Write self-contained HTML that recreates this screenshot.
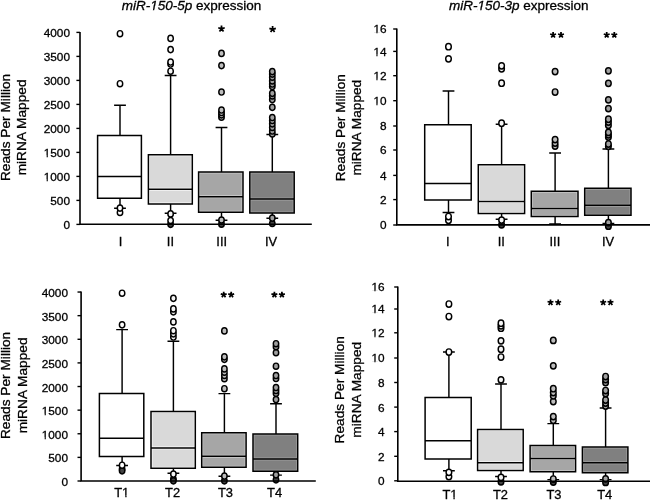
<!DOCTYPE html>
<html><head><meta charset="utf-8"><style>
html,body{margin:0;padding:0;background:#fff;width:650px;height:500px;overflow:hidden}
svg{display:block;will-change:transform}
text{font-family:"Liberation Sans", sans-serif;fill:#000;stroke:#000;stroke-width:0.3px}
</style></head><body>
<svg width="650" height="500" viewBox="0 0 650 500">
<text x="121.7" y="10.4" font-size="13.5"><tspan font-style="italic">miR-150-5p</tspan> expression</text>
<text x="449" y="10.4" font-size="13.5"><tspan font-style="italic">miR-150-3p</tspan> expression</text>
<polygon points="150.06,11.13 152.68,11.13 153.1,9 150.06,9" fill="#fff"/>
<polygon points="154.04,11.13 157.57,11.13 157.57,9 154.45,9" fill="#fff"/>
<polygon points="477.36,11.13 479.98,11.13 480.4,9 477.36,9" fill="#fff"/>
<polygon points="481.34,11.13 484.87,11.13 484.87,9 481.75,9" fill="#fff"/>
<text transform="translate(9.8,127.4) rotate(-90)" text-anchor="middle" font-size="13.7">Reads Per Million</text>
<text transform="translate(26.3,127.4) rotate(-90)" text-anchor="middle" font-size="13.7">miRNA Mapped</text>
<line x1="76.4" y1="224.4" x2="80" y2="224.4" stroke="#000" stroke-width="1.4"/>
<text x="70" y="228.8" text-anchor="end" font-size="11.8">0</text>
<line x1="76.4" y1="200.4" x2="80" y2="200.4" stroke="#000" stroke-width="1.4"/>
<text x="70" y="204.8" text-anchor="end" font-size="11.8">500</text>
<line x1="76.4" y1="176.4" x2="80" y2="176.4" stroke="#000" stroke-width="1.4"/>
<text x="70" y="180.8" text-anchor="end" font-size="11.8">1000</text>
<rect x="43.65" y="179.52" width="2.97" height="2.78" fill="#fff"/>
<rect x="47.86" y="179.52" width="2.78" height="2.78" fill="#fff"/>
<line x1="76.4" y1="152.4" x2="80" y2="152.4" stroke="#000" stroke-width="1.4"/>
<text x="70" y="156.8" text-anchor="end" font-size="11.8">1500</text>
<rect x="43.65" y="155.52" width="2.97" height="2.78" fill="#fff"/>
<rect x="47.86" y="155.52" width="2.78" height="2.78" fill="#fff"/>
<line x1="76.4" y1="128.4" x2="80" y2="128.4" stroke="#000" stroke-width="1.4"/>
<text x="70" y="132.8" text-anchor="end" font-size="11.8">2000</text>
<line x1="76.4" y1="104.4" x2="80" y2="104.4" stroke="#000" stroke-width="1.4"/>
<text x="70" y="108.8" text-anchor="end" font-size="11.8">2500</text>
<line x1="76.4" y1="80.4" x2="80" y2="80.4" stroke="#000" stroke-width="1.4"/>
<text x="70" y="84.8" text-anchor="end" font-size="11.8">3000</text>
<line x1="76.4" y1="56.4" x2="80" y2="56.4" stroke="#000" stroke-width="1.4"/>
<text x="70" y="60.8" text-anchor="end" font-size="11.8">3500</text>
<line x1="76.4" y1="32.4" x2="80" y2="32.4" stroke="#000" stroke-width="1.4"/>
<text x="70" y="36.8" text-anchor="end" font-size="11.8">4000</text>
<path d="M120 105.3V135.6M120 198.2V208.3M114.1 105.3H125.9M114.1 208.3H125.9" stroke="#000" stroke-width="1.45" fill="none"/>
<rect x="98.4" y="136.4" width="42.2" height="39.2" fill="#ffffff" stroke="#ffffff" stroke-width="1.3"/>
<rect x="98.4" y="177.2" width="42.2" height="20.2" fill="#ffffff" stroke="#ffffff" stroke-width="1.3"/>
<path d="M97.6 135.6H141.4V198.2H97.6ZM97.6 176.4H141.4" fill="none" stroke="#000" stroke-width="1.5"/>
<ellipse cx="120" cy="212.5" rx="2.7" ry="3.1" fill="#ffffff" stroke="#000" stroke-width="1.45"/>
<ellipse cx="120" cy="208.1" rx="2.7" ry="3.1" fill="#ffffff" stroke="#000" stroke-width="1.45"/>
<ellipse cx="120" cy="83.7" rx="2.7" ry="3.1" fill="#ffffff" stroke="#000" stroke-width="1.45"/>
<ellipse cx="120" cy="33.7" rx="2.7" ry="3.1" fill="#ffffff" stroke="#000" stroke-width="1.45"/>
<text x="120.6" y="245.9" text-anchor="middle" font-size="12.9">I</text>
<path d="M170.6 75.4V154.8M170.6 203.9V213.3M164.7 75.4H176.5M164.7 213.3H176.5" stroke="#000" stroke-width="1.45" fill="none"/>
<rect x="149.2" y="155.6" width="42.3" height="32.8" fill="#d9d9d9" stroke="#fbfbfb" stroke-width="1.3"/>
<rect x="149.2" y="190" width="42.3" height="13.1" fill="#d9d9d9" stroke="#fbfbfb" stroke-width="1.3"/>
<path d="M148.4 154.8H192.3V203.9H148.4ZM148.4 189.2H192.3" fill="none" stroke="#000" stroke-width="1.5"/>
<ellipse cx="170.6" cy="224.3" rx="2.7" ry="3.1" fill="#444" stroke="#000" stroke-width="1.45"/>
<ellipse cx="170.6" cy="220.5" rx="2.7" ry="3.1" fill="#f4f4f4" stroke="#000" stroke-width="1.45"/>
<ellipse cx="170.6" cy="213.9" rx="2.7" ry="3.1" fill="#f4f4f4" stroke="#000" stroke-width="1.45"/>
<ellipse cx="170.6" cy="71.2" rx="2.7" ry="3.1" fill="#f4f4f4" stroke="#000" stroke-width="1.45"/>
<ellipse cx="170.6" cy="64" rx="2.7" ry="3.1" fill="#f4f4f4" stroke="#000" stroke-width="1.45"/>
<ellipse cx="170.6" cy="62" rx="2.7" ry="3.1" fill="#f4f4f4" stroke="#000" stroke-width="1.45"/>
<ellipse cx="170.6" cy="49.6" rx="2.7" ry="3.1" fill="#f4f4f4" stroke="#000" stroke-width="1.45"/>
<ellipse cx="170.6" cy="38.4" rx="2.7" ry="3.1" fill="#f4f4f4" stroke="#000" stroke-width="1.45"/>
<text x="170.4" y="245.9" text-anchor="middle" font-size="12.9">II</text>
<path d="M221.5 127.4V172M221.5 212.2V220.2M215.6 127.4H227.4M215.6 220.2H227.4" stroke="#000" stroke-width="1.45" fill="none"/>
<rect x="199.4" y="172.8" width="42.8" height="23.1" fill="#a6a6a6" stroke="#cccccc" stroke-width="1.3"/>
<rect x="199.4" y="197.5" width="42.8" height="13.9" fill="#a6a6a6" stroke="#cccccc" stroke-width="1.3"/>
<path d="M198.6 172H243V212.2H198.6ZM198.6 196.7H243" fill="none" stroke="#000" stroke-width="1.5"/>
<ellipse cx="221.5" cy="224.2" rx="2.7" ry="3.1" fill="#444" stroke="#000" stroke-width="1.45"/>
<ellipse cx="221.5" cy="220" rx="2.7" ry="3.1" fill="#bdbdbd" stroke="#000" stroke-width="1.45"/>
<ellipse cx="221.5" cy="117.2" rx="2.7" ry="3.1" fill="#bdbdbd" stroke="#000" stroke-width="1.45"/>
<ellipse cx="221.5" cy="114.8" rx="2.7" ry="3.1" fill="#bdbdbd" stroke="#000" stroke-width="1.45"/>
<ellipse cx="221.5" cy="112.5" rx="2.7" ry="3.1" fill="#bdbdbd" stroke="#000" stroke-width="1.45"/>
<ellipse cx="221.5" cy="110" rx="2.7" ry="3.1" fill="#bdbdbd" stroke="#000" stroke-width="1.45"/>
<ellipse cx="221.5" cy="92" rx="2.7" ry="3.1" fill="#bdbdbd" stroke="#000" stroke-width="1.45"/>
<ellipse cx="221.5" cy="65.6" rx="2.7" ry="3.1" fill="#bdbdbd" stroke="#000" stroke-width="1.45"/>
<ellipse cx="221.5" cy="53.4" rx="2.7" ry="3.1" fill="#bdbdbd" stroke="#000" stroke-width="1.45"/>
<text x="221.7" y="245.9" text-anchor="middle" font-size="12.9">III</text>
<path d="M221.5 28.8L221.5 25.4M221.5 28.8L224.73 27.75M221.5 28.8L223.5 31.55M221.5 28.8L219.5 31.55M221.5 28.8L218.27 27.75" stroke="#000" stroke-width="1.75" fill="none"/>
<path d="M272.3 134.5V172M272.3 213V218.3M266.4 134.5H278.2M266.4 218.3H278.2" stroke="#000" stroke-width="1.45" fill="none"/>
<rect x="250.6" y="172.8" width="42.8" height="25.5" fill="#808080" stroke="#a3a3a3" stroke-width="1.3"/>
<rect x="250.6" y="199.9" width="42.8" height="12.3" fill="#808080" stroke="#a3a3a3" stroke-width="1.3"/>
<path d="M249.8 172H294.2V213H249.8ZM249.8 199.1H294.2" fill="none" stroke="#000" stroke-width="1.5"/>
<ellipse cx="272.3" cy="223.5" rx="2.7" ry="3.1" fill="#444" stroke="#000" stroke-width="1.45"/>
<ellipse cx="272.3" cy="218.1" rx="2.7" ry="3.1" fill="#a0a0a0" stroke="#000" stroke-width="1.45"/>
<ellipse cx="272.3" cy="134" rx="2.7" ry="3.1" fill="#a0a0a0" stroke="#000" stroke-width="1.45"/>
<ellipse cx="272.3" cy="131" rx="2.7" ry="3.1" fill="#a0a0a0" stroke="#000" stroke-width="1.45"/>
<ellipse cx="272.3" cy="127.4" rx="2.7" ry="3.1" fill="#a0a0a0" stroke="#000" stroke-width="1.45"/>
<ellipse cx="272.3" cy="123.8" rx="2.7" ry="3.1" fill="#a0a0a0" stroke="#000" stroke-width="1.45"/>
<ellipse cx="272.3" cy="120.5" rx="2.7" ry="3.1" fill="#a0a0a0" stroke="#000" stroke-width="1.45"/>
<ellipse cx="272.3" cy="117.5" rx="2.7" ry="3.1" fill="#a0a0a0" stroke="#000" stroke-width="1.45"/>
<ellipse cx="272.3" cy="107.3" rx="2.7" ry="3.1" fill="#a0a0a0" stroke="#000" stroke-width="1.45"/>
<ellipse cx="272.3" cy="99.6" rx="2.7" ry="3.1" fill="#a0a0a0" stroke="#000" stroke-width="1.45"/>
<ellipse cx="272.3" cy="95.9" rx="2.7" ry="3.1" fill="#a0a0a0" stroke="#000" stroke-width="1.45"/>
<ellipse cx="272.3" cy="93.3" rx="2.7" ry="3.1" fill="#a0a0a0" stroke="#000" stroke-width="1.45"/>
<ellipse cx="272.3" cy="86.6" rx="2.7" ry="3.1" fill="#a0a0a0" stroke="#000" stroke-width="1.45"/>
<ellipse cx="272.3" cy="84" rx="2.7" ry="3.1" fill="#a0a0a0" stroke="#000" stroke-width="1.45"/>
<ellipse cx="272.3" cy="80.9" rx="2.7" ry="3.1" fill="#a0a0a0" stroke="#000" stroke-width="1.45"/>
<ellipse cx="272.3" cy="77.2" rx="2.7" ry="3.1" fill="#a0a0a0" stroke="#000" stroke-width="1.45"/>
<ellipse cx="272.3" cy="74.1" rx="2.7" ry="3.1" fill="#a0a0a0" stroke="#000" stroke-width="1.45"/>
<ellipse cx="272.3" cy="71.6" rx="2.7" ry="3.1" fill="#a0a0a0" stroke="#000" stroke-width="1.45"/>
<text x="271.1" y="245.9" text-anchor="middle" font-size="12.9">IV</text>
<path d="M272.6 29.35L272.6 25.95M272.6 29.35L275.83 28.3M272.6 29.35L274.6 32.1M272.6 29.35L270.6 32.1M272.6 29.35L269.37 28.3" stroke="#000" stroke-width="1.75" fill="none"/>
<path d="M80 32V225M79.2 224.2H311.8" stroke="#000" stroke-width="1.6" fill="none"/>
<text transform="translate(345,127.7) rotate(-90)" text-anchor="middle" font-size="13.7">Reads Per Million</text>
<text transform="translate(361.1,127.7) rotate(-90)" text-anchor="middle" font-size="13.7">miRNA Mapped</text>
<line x1="393.2" y1="225" x2="396.8" y2="225" stroke="#000" stroke-width="1.4"/>
<text x="386.6" y="229.4" text-anchor="end" font-size="11.8">0</text>
<line x1="393.2" y1="199.6" x2="396.8" y2="199.6" stroke="#000" stroke-width="1.4"/>
<text x="386.6" y="204" text-anchor="end" font-size="11.8">2</text>
<line x1="393.2" y1="175.4" x2="396.8" y2="175.4" stroke="#000" stroke-width="1.4"/>
<text x="386.6" y="179.8" text-anchor="end" font-size="11.8">4</text>
<line x1="393.2" y1="150" x2="396.8" y2="150" stroke="#000" stroke-width="1.4"/>
<text x="386.6" y="154.4" text-anchor="end" font-size="11.8">6</text>
<line x1="393.2" y1="126" x2="396.8" y2="126" stroke="#000" stroke-width="1.4"/>
<text x="386.6" y="130.4" text-anchor="end" font-size="11.8">8</text>
<line x1="393.2" y1="100.7" x2="396.8" y2="100.7" stroke="#000" stroke-width="1.4"/>
<text x="386.6" y="105.1" text-anchor="end" font-size="11.8">10</text>
<rect x="373.37" y="103.82" width="2.97" height="2.78" fill="#fff"/>
<rect x="377.58" y="103.82" width="2.78" height="2.78" fill="#fff"/>
<line x1="393.2" y1="75.7" x2="396.8" y2="75.7" stroke="#000" stroke-width="1.4"/>
<text x="386.6" y="80.1" text-anchor="end" font-size="11.8">12</text>
<rect x="373.37" y="78.82" width="2.97" height="2.78" fill="#fff"/>
<rect x="377.58" y="78.82" width="2.78" height="2.78" fill="#fff"/>
<line x1="393.2" y1="51.4" x2="396.8" y2="51.4" stroke="#000" stroke-width="1.4"/>
<text x="386.6" y="55.8" text-anchor="end" font-size="11.8">14</text>
<rect x="373.37" y="54.52" width="2.97" height="2.78" fill="#fff"/>
<rect x="377.58" y="54.52" width="2.78" height="2.78" fill="#fff"/>
<line x1="393.2" y1="29" x2="396.8" y2="29" stroke="#000" stroke-width="1.4"/>
<text x="386.6" y="33.4" text-anchor="end" font-size="11.8">16</text>
<rect x="373.37" y="32.12" width="2.97" height="2.78" fill="#fff"/>
<rect x="377.58" y="32.12" width="2.78" height="2.78" fill="#fff"/>
<path d="M448.5 91V124.8M448.5 199.9V212.4M442.6 91H454.4M442.6 212.4H454.4" stroke="#000" stroke-width="1.45" fill="none"/>
<rect x="425.5" y="125.6" width="44.9" height="57.1" fill="#ffffff" stroke="#ffffff" stroke-width="1.3"/>
<rect x="425.5" y="184.3" width="44.9" height="14.8" fill="#ffffff" stroke="#ffffff" stroke-width="1.3"/>
<path d="M424.7 124.8H471.2V199.9H424.7ZM424.7 183.5H471.2" fill="none" stroke="#000" stroke-width="1.5"/>
<ellipse cx="448.5" cy="220.2" rx="2.8" ry="3.15" fill="#ffffff" stroke="#000" stroke-width="1.45"/>
<ellipse cx="448.5" cy="216.5" rx="2.8" ry="3.15" fill="#ffffff" stroke="#000" stroke-width="1.45"/>
<ellipse cx="448.5" cy="58.85" rx="2.8" ry="3.15" fill="#ffffff" stroke="#000" stroke-width="1.45"/>
<ellipse cx="448.5" cy="46.7" rx="2.8" ry="3.15" fill="#ffffff" stroke="#000" stroke-width="1.45"/>
<text x="447.7" y="245.9" text-anchor="middle" font-size="12.9">I</text>
<path d="M501.6 124.3V164.8M501.6 213.4V219.3M495.7 124.3H507.5M495.7 219.3H507.5" stroke="#000" stroke-width="1.45" fill="none"/>
<rect x="479.1" y="165.6" width="44.7" height="35.1" fill="#d9d9d9" stroke="#fbfbfb" stroke-width="1.3"/>
<rect x="479.1" y="202.3" width="44.7" height="10.3" fill="#d9d9d9" stroke="#fbfbfb" stroke-width="1.3"/>
<path d="M478.3 164.8H524.6V213.4H478.3ZM478.3 201.5H524.6" fill="none" stroke="#000" stroke-width="1.5"/>
<ellipse cx="501.6" cy="224.8" rx="2.8" ry="3.15" fill="#444" stroke="#000" stroke-width="1.45"/>
<ellipse cx="501.6" cy="220.1" rx="2.8" ry="3.15" fill="#f4f4f4" stroke="#000" stroke-width="1.45"/>
<ellipse cx="501.6" cy="123.2" rx="2.8" ry="3.15" fill="#f4f4f4" stroke="#000" stroke-width="1.45"/>
<ellipse cx="501.6" cy="83.2" rx="2.8" ry="3.15" fill="#f4f4f4" stroke="#000" stroke-width="1.45"/>
<ellipse cx="501.6" cy="68.8" rx="2.8" ry="3.15" fill="#f4f4f4" stroke="#000" stroke-width="1.45"/>
<ellipse cx="501.6" cy="65.8" rx="2.8" ry="3.15" fill="#f4f4f4" stroke="#000" stroke-width="1.45"/>
<text x="501.3" y="245.9" text-anchor="middle" font-size="12.9">II</text>
<path d="M555.1 153V191.2M555.1 216.4V223.9M549.2 153H561M549.2 223.9H561" stroke="#000" stroke-width="1.45" fill="none"/>
<rect x="532.1" y="192" width="45.1" height="15.7" fill="#a6a6a6" stroke="#cccccc" stroke-width="1.3"/>
<rect x="532.1" y="209.3" width="45.1" height="6.3" fill="#a6a6a6" stroke="#cccccc" stroke-width="1.3"/>
<path d="M531.3 191.2H578V216.4H531.3ZM531.3 208.5H578" fill="none" stroke="#000" stroke-width="1.5"/>
<ellipse cx="555.1" cy="146" rx="2.8" ry="3.15" fill="#bdbdbd" stroke="#000" stroke-width="1.45"/>
<ellipse cx="555.1" cy="143" rx="2.8" ry="3.15" fill="#bdbdbd" stroke="#000" stroke-width="1.45"/>
<ellipse cx="555.1" cy="139.6" rx="2.8" ry="3.15" fill="#bdbdbd" stroke="#000" stroke-width="1.45"/>
<ellipse cx="555.1" cy="92" rx="2.8" ry="3.15" fill="#bdbdbd" stroke="#000" stroke-width="1.45"/>
<ellipse cx="555.1" cy="71.6" rx="2.8" ry="3.15" fill="#bdbdbd" stroke="#000" stroke-width="1.45"/>
<text x="554.9" y="245.9" text-anchor="middle" font-size="12.9">III</text>
<path d="M553.1 35L553.1 31.9M553.1 35L556.05 34.04M553.1 35L554.92 37.51M553.1 35L551.28 37.51M553.1 35L550.15 34.04" stroke="#000" stroke-width="1.75" fill="none"/>
<path d="M561 35L561 31.9M561 35L563.95 34.04M561 35L562.82 37.51M561 35L559.18 37.51M561 35L558.05 34.04" stroke="#000" stroke-width="1.75" fill="none"/>
<path d="M608.4 149V188.3M608.4 215.3V223.4M602.5 149H614.3M602.5 223.4H614.3" stroke="#000" stroke-width="1.45" fill="none"/>
<rect x="585.5" y="189.1" width="44.7" height="15.4" fill="#808080" stroke="#a3a3a3" stroke-width="1.3"/>
<rect x="585.5" y="206.1" width="44.7" height="8.4" fill="#808080" stroke="#a3a3a3" stroke-width="1.3"/>
<path d="M584.7 188.3H631V215.3H584.7ZM584.7 205.3H631" fill="none" stroke="#000" stroke-width="1.5"/>
<ellipse cx="608.4" cy="226.2" rx="2.8" ry="3.15" fill="#444" stroke="#000" stroke-width="1.45"/>
<ellipse cx="608.4" cy="222.6" rx="2.8" ry="3.15" fill="#a0a0a0" stroke="#000" stroke-width="1.45"/>
<ellipse cx="608.4" cy="146.3" rx="2.8" ry="3.15" fill="#a0a0a0" stroke="#000" stroke-width="1.45"/>
<ellipse cx="608.4" cy="144" rx="2.8" ry="3.15" fill="#a0a0a0" stroke="#000" stroke-width="1.45"/>
<ellipse cx="608.4" cy="137" rx="2.8" ry="3.15" fill="#a0a0a0" stroke="#000" stroke-width="1.45"/>
<ellipse cx="608.4" cy="134.8" rx="2.8" ry="3.15" fill="#a0a0a0" stroke="#000" stroke-width="1.45"/>
<ellipse cx="608.4" cy="132.4" rx="2.8" ry="3.15" fill="#a0a0a0" stroke="#000" stroke-width="1.45"/>
<ellipse cx="608.4" cy="125.3" rx="2.8" ry="3.15" fill="#a0a0a0" stroke="#000" stroke-width="1.45"/>
<ellipse cx="608.4" cy="122" rx="2.8" ry="3.15" fill="#a0a0a0" stroke="#000" stroke-width="1.45"/>
<ellipse cx="608.4" cy="119.2" rx="2.8" ry="3.15" fill="#a0a0a0" stroke="#000" stroke-width="1.45"/>
<ellipse cx="608.4" cy="108.6" rx="2.8" ry="3.15" fill="#a0a0a0" stroke="#000" stroke-width="1.45"/>
<ellipse cx="608.4" cy="99.8" rx="2.8" ry="3.15" fill="#a0a0a0" stroke="#000" stroke-width="1.45"/>
<ellipse cx="608.4" cy="83.3" rx="2.8" ry="3.15" fill="#a0a0a0" stroke="#000" stroke-width="1.45"/>
<ellipse cx="608.4" cy="70.8" rx="2.8" ry="3.15" fill="#a0a0a0" stroke="#000" stroke-width="1.45"/>
<text x="608" y="245.9" text-anchor="middle" font-size="12.9">IV</text>
<path d="M606.7 35L606.7 31.9M606.7 35L609.65 34.04M606.7 35L608.52 37.51M606.7 35L604.88 37.51M606.7 35L603.75 34.04" stroke="#000" stroke-width="1.75" fill="none"/>
<path d="M614.3 35L614.3 31.9M614.3 35L617.25 34.04M614.3 35L616.12 37.51M614.3 35L612.48 37.51M614.3 35L611.35 34.04" stroke="#000" stroke-width="1.75" fill="none"/>
<path d="M396.8 28.5V225.7M396 224.9H650" stroke="#000" stroke-width="1.6" fill="none"/>
<text transform="translate(9.8,385.4) rotate(-90)" text-anchor="middle" font-size="13.7">Reads Per Million</text>
<text transform="translate(26.5,385.4) rotate(-90)" text-anchor="middle" font-size="13.7">miRNA Mapped</text>
<line x1="77.5" y1="481" x2="81.1" y2="481" stroke="#000" stroke-width="1.4"/>
<text x="68" y="486" text-anchor="end" font-size="11.8">0</text>
<line x1="77.5" y1="457.38" x2="81.1" y2="457.38" stroke="#000" stroke-width="1.4"/>
<text x="68" y="462.38" text-anchor="end" font-size="11.8">500</text>
<line x1="77.5" y1="433.76" x2="81.1" y2="433.76" stroke="#000" stroke-width="1.4"/>
<text x="68" y="438.76" text-anchor="end" font-size="11.8">1000</text>
<rect x="41.65" y="437.48" width="2.97" height="2.78" fill="#fff"/>
<rect x="45.86" y="437.48" width="2.78" height="2.78" fill="#fff"/>
<line x1="77.5" y1="410.14" x2="81.1" y2="410.14" stroke="#000" stroke-width="1.4"/>
<text x="68" y="415.14" text-anchor="end" font-size="11.8">1500</text>
<rect x="41.65" y="413.86" width="2.97" height="2.78" fill="#fff"/>
<rect x="45.86" y="413.86" width="2.78" height="2.78" fill="#fff"/>
<line x1="77.5" y1="386.52" x2="81.1" y2="386.52" stroke="#000" stroke-width="1.4"/>
<text x="68" y="391.52" text-anchor="end" font-size="11.8">2000</text>
<line x1="77.5" y1="362.9" x2="81.1" y2="362.9" stroke="#000" stroke-width="1.4"/>
<text x="68" y="367.9" text-anchor="end" font-size="11.8">2500</text>
<line x1="77.5" y1="339.28" x2="81.1" y2="339.28" stroke="#000" stroke-width="1.4"/>
<text x="68" y="344.28" text-anchor="end" font-size="11.8">3000</text>
<line x1="77.5" y1="315.66" x2="81.1" y2="315.66" stroke="#000" stroke-width="1.4"/>
<text x="68" y="320.66" text-anchor="end" font-size="11.8">3500</text>
<line x1="77.5" y1="292.04" x2="81.1" y2="292.04" stroke="#000" stroke-width="1.4"/>
<text x="68" y="297.04" text-anchor="end" font-size="11.8">4000</text>
<path d="M122.1 329.6V393.6M122.1 456.5V465.4M116.2 329.6H128M116.2 465.4H128" stroke="#000" stroke-width="1.45" fill="none"/>
<rect x="100.2" y="394.4" width="42.8" height="43.1" fill="#ffffff" stroke="#ffffff" stroke-width="1.3"/>
<rect x="100.2" y="439.1" width="42.8" height="16.6" fill="#ffffff" stroke="#ffffff" stroke-width="1.3"/>
<path d="M99.4 393.6H143.8V456.5H99.4ZM99.4 438.3H143.8" fill="none" stroke="#000" stroke-width="1.5"/>
<ellipse cx="122.1" cy="469" rx="2.7" ry="3.1" fill="#444" stroke="#000" stroke-width="1.45"/>
<ellipse cx="122.1" cy="470.8" rx="2.7" ry="3.1" fill="#444" stroke="#000" stroke-width="1.45"/>
<ellipse cx="122.1" cy="465.2" rx="2.7" ry="3.1" fill="#ffffff" stroke="#000" stroke-width="1.45"/>
<ellipse cx="122.1" cy="324.8" rx="2.7" ry="3.1" fill="#ffffff" stroke="#000" stroke-width="1.45"/>
<ellipse cx="122.1" cy="293.2" rx="2.7" ry="3.1" fill="#ffffff" stroke="#000" stroke-width="1.45"/>
<text x="121.75" y="496.8" text-anchor="middle" font-size="12.9">T1</text>
<rect x="122.09" y="495.44" width="3.16" height="2.86" fill="#fff"/>
<rect x="126.59" y="495.44" width="2.96" height="2.86" fill="#fff"/>
<path d="M173.4 341.2V411.4M173.4 468.3V473.3M167.5 341.2H179.3M167.5 473.3H179.3" stroke="#000" stroke-width="1.45" fill="none"/>
<rect x="151.8" y="412.2" width="42.7" height="34.9" fill="#d9d9d9" stroke="#fbfbfb" stroke-width="1.3"/>
<rect x="151.8" y="448.7" width="42.7" height="18.8" fill="#d9d9d9" stroke="#fbfbfb" stroke-width="1.3"/>
<path d="M151 411.4H195.3V468.3H151ZM151 447.9H195.3" fill="none" stroke="#000" stroke-width="1.5"/>
<ellipse cx="173.4" cy="479" rx="2.7" ry="3.1" fill="#444" stroke="#000" stroke-width="1.45"/>
<ellipse cx="173.4" cy="480.8" rx="2.7" ry="3.1" fill="#444" stroke="#000" stroke-width="1.45"/>
<ellipse cx="173.4" cy="474" rx="2.7" ry="3.1" fill="#f4f4f4" stroke="#000" stroke-width="1.45"/>
<ellipse cx="173.4" cy="337" rx="2.7" ry="3.1" fill="#f4f4f4" stroke="#000" stroke-width="1.45"/>
<ellipse cx="173.4" cy="333.8" rx="2.7" ry="3.1" fill="#f4f4f4" stroke="#000" stroke-width="1.45"/>
<ellipse cx="173.4" cy="330.7" rx="2.7" ry="3.1" fill="#f4f4f4" stroke="#000" stroke-width="1.45"/>
<ellipse cx="173.4" cy="321.9" rx="2.7" ry="3.1" fill="#f4f4f4" stroke="#000" stroke-width="1.45"/>
<ellipse cx="173.4" cy="311.8" rx="2.7" ry="3.1" fill="#f4f4f4" stroke="#000" stroke-width="1.45"/>
<ellipse cx="173.4" cy="308.9" rx="2.7" ry="3.1" fill="#f4f4f4" stroke="#000" stroke-width="1.45"/>
<ellipse cx="173.4" cy="298.3" rx="2.7" ry="3.1" fill="#f4f4f4" stroke="#000" stroke-width="1.45"/>
<text x="172.6" y="496.8" text-anchor="middle" font-size="12.9">T2</text>
<path d="M224.4 393.6V432.8M224.4 467.3V476.2M218.5 393.6H230.3M218.5 476.2H230.3" stroke="#000" stroke-width="1.45" fill="none"/>
<rect x="202.5" y="433.6" width="42.8" height="21.9" fill="#a6a6a6" stroke="#cccccc" stroke-width="1.3"/>
<rect x="202.5" y="457.1" width="42.8" height="9.4" fill="#a6a6a6" stroke="#cccccc" stroke-width="1.3"/>
<path d="M201.7 432.8H246.1V467.3H201.7ZM201.7 456.3H246.1" fill="none" stroke="#000" stroke-width="1.5"/>
<ellipse cx="224.4" cy="480.8" rx="2.7" ry="3.1" fill="#444" stroke="#000" stroke-width="1.45"/>
<ellipse cx="224.4" cy="476" rx="2.7" ry="3.1" fill="#bdbdbd" stroke="#000" stroke-width="1.45"/>
<ellipse cx="224.4" cy="388.7" rx="2.7" ry="3.1" fill="#bdbdbd" stroke="#000" stroke-width="1.45"/>
<ellipse cx="224.4" cy="378.7" rx="2.7" ry="3.1" fill="#bdbdbd" stroke="#000" stroke-width="1.45"/>
<ellipse cx="224.4" cy="375.4" rx="2.7" ry="3.1" fill="#bdbdbd" stroke="#000" stroke-width="1.45"/>
<ellipse cx="224.4" cy="372.2" rx="2.7" ry="3.1" fill="#bdbdbd" stroke="#000" stroke-width="1.45"/>
<ellipse cx="224.4" cy="368.9" rx="2.7" ry="3.1" fill="#bdbdbd" stroke="#000" stroke-width="1.45"/>
<ellipse cx="224.4" cy="359.3" rx="2.7" ry="3.1" fill="#bdbdbd" stroke="#000" stroke-width="1.45"/>
<ellipse cx="224.4" cy="356.8" rx="2.7" ry="3.1" fill="#bdbdbd" stroke="#000" stroke-width="1.45"/>
<ellipse cx="224.4" cy="330.9" rx="2.7" ry="3.1" fill="#bdbdbd" stroke="#000" stroke-width="1.45"/>
<text x="225.5" y="496.8" text-anchor="middle" font-size="12.9">T3</text>
<path d="M223.7 294.8L223.7 291.7M223.7 294.8L226.65 293.84M223.7 294.8L225.52 297.31M223.7 294.8L221.88 297.31M223.7 294.8L220.75 293.84" stroke="#000" stroke-width="1.75" fill="none"/>
<path d="M231.2 294.8L231.2 291.7M231.2 294.8L234.15 293.84M231.2 294.8L233.02 297.31M231.2 294.8L229.38 297.31M231.2 294.8L228.25 293.84" stroke="#000" stroke-width="1.75" fill="none"/>
<path d="M276 403.7V434M276 471.2V475.1M270.1 403.7H281.9M270.1 475.1H281.9" stroke="#000" stroke-width="1.45" fill="none"/>
<rect x="253.8" y="434.8" width="43.1" height="23.4" fill="#808080" stroke="#a3a3a3" stroke-width="1.3"/>
<rect x="253.8" y="459.8" width="43.1" height="10.6" fill="#808080" stroke="#a3a3a3" stroke-width="1.3"/>
<path d="M253 434H297.7V471.2H253ZM253 459H297.7" fill="none" stroke="#000" stroke-width="1.5"/>
<ellipse cx="276" cy="479.8" rx="2.7" ry="3.1" fill="#444" stroke="#000" stroke-width="1.45"/>
<ellipse cx="276" cy="474.8" rx="2.7" ry="3.1" fill="#a0a0a0" stroke="#000" stroke-width="1.45"/>
<ellipse cx="276" cy="399.5" rx="2.7" ry="3.1" fill="#a0a0a0" stroke="#000" stroke-width="1.45"/>
<ellipse cx="276" cy="393.3" rx="2.7" ry="3.1" fill="#a0a0a0" stroke="#000" stroke-width="1.45"/>
<ellipse cx="276" cy="390.5" rx="2.7" ry="3.1" fill="#a0a0a0" stroke="#000" stroke-width="1.45"/>
<ellipse cx="276" cy="387.5" rx="2.7" ry="3.1" fill="#a0a0a0" stroke="#000" stroke-width="1.45"/>
<ellipse cx="276" cy="378.5" rx="2.7" ry="3.1" fill="#a0a0a0" stroke="#000" stroke-width="1.45"/>
<ellipse cx="276" cy="375.5" rx="2.7" ry="3.1" fill="#a0a0a0" stroke="#000" stroke-width="1.45"/>
<ellipse cx="276" cy="366.2" rx="2.7" ry="3.1" fill="#a0a0a0" stroke="#000" stroke-width="1.45"/>
<ellipse cx="276" cy="352.7" rx="2.7" ry="3.1" fill="#a0a0a0" stroke="#000" stroke-width="1.45"/>
<ellipse cx="276" cy="346.7" rx="2.7" ry="3.1" fill="#a0a0a0" stroke="#000" stroke-width="1.45"/>
<ellipse cx="276" cy="343.7" rx="2.7" ry="3.1" fill="#a0a0a0" stroke="#000" stroke-width="1.45"/>
<text x="274.6" y="496.8" text-anchor="middle" font-size="12.9">T4</text>
<path d="M274.4 294.8L274.4 291.7M274.4 294.8L277.35 293.84M274.4 294.8L276.22 297.31M274.4 294.8L272.58 297.31M274.4 294.8L271.45 293.84" stroke="#000" stroke-width="1.75" fill="none"/>
<path d="M281.9 294.8L281.9 291.7M281.9 294.8L284.85 293.84M281.9 294.8L283.72 297.31M281.9 294.8L280.08 297.31M281.9 294.8L278.95 293.84" stroke="#000" stroke-width="1.75" fill="none"/>
<path d="M81.1 291.5V481.8M80.3 481H315.8" stroke="#000" stroke-width="1.6" fill="none"/>
<text transform="translate(344.3,389.75) rotate(-90)" text-anchor="middle" font-size="13.7">Reads Per Million</text>
<text transform="translate(360.5,389.75) rotate(-90)" text-anchor="middle" font-size="13.7">miRNA Mapped</text>
<line x1="394.2" y1="480.8" x2="397.8" y2="480.8" stroke="#000" stroke-width="1.4"/>
<text x="384.6" y="485.2" text-anchor="end" font-size="11.8">0</text>
<line x1="394.2" y1="456.3" x2="397.8" y2="456.3" stroke="#000" stroke-width="1.4"/>
<text x="384.6" y="460.7" text-anchor="end" font-size="11.8">2</text>
<line x1="394.2" y1="431.6" x2="397.8" y2="431.6" stroke="#000" stroke-width="1.4"/>
<text x="384.6" y="436" text-anchor="end" font-size="11.8">4</text>
<line x1="394.2" y1="407.1" x2="397.8" y2="407.1" stroke="#000" stroke-width="1.4"/>
<text x="384.6" y="411.5" text-anchor="end" font-size="11.8">6</text>
<line x1="394.2" y1="382.5" x2="397.8" y2="382.5" stroke="#000" stroke-width="1.4"/>
<text x="384.6" y="386.9" text-anchor="end" font-size="11.8">8</text>
<line x1="394.2" y1="358" x2="397.8" y2="358" stroke="#000" stroke-width="1.4"/>
<text x="384.6" y="362.4" text-anchor="end" font-size="11.8">10</text>
<rect x="371.37" y="361.12" width="2.97" height="2.78" fill="#fff"/>
<rect x="375.58" y="361.12" width="2.78" height="2.78" fill="#fff"/>
<line x1="394.2" y1="332.8" x2="397.8" y2="332.8" stroke="#000" stroke-width="1.4"/>
<text x="384.6" y="337.2" text-anchor="end" font-size="11.8">12</text>
<rect x="371.37" y="335.92" width="2.97" height="2.78" fill="#fff"/>
<rect x="375.58" y="335.92" width="2.78" height="2.78" fill="#fff"/>
<line x1="394.2" y1="309" x2="397.8" y2="309" stroke="#000" stroke-width="1.4"/>
<text x="384.6" y="313.4" text-anchor="end" font-size="11.8">14</text>
<rect x="371.37" y="312.12" width="2.97" height="2.78" fill="#fff"/>
<rect x="375.58" y="312.12" width="2.78" height="2.78" fill="#fff"/>
<line x1="394.2" y1="287" x2="397.8" y2="287" stroke="#000" stroke-width="1.4"/>
<text x="384.6" y="291.4" text-anchor="end" font-size="11.8">16</text>
<rect x="371.37" y="290.12" width="2.97" height="2.78" fill="#fff"/>
<rect x="375.58" y="290.12" width="2.78" height="2.78" fill="#fff"/>
<path d="M448.9 352V397.4M448.9 459V470.7M443 352H454.8M443 470.7H454.8" stroke="#000" stroke-width="1.45" fill="none"/>
<rect x="425.9" y="398.2" width="44.5" height="41.7" fill="#ffffff" stroke="#ffffff" stroke-width="1.3"/>
<rect x="425.9" y="441.5" width="44.5" height="16.7" fill="#ffffff" stroke="#ffffff" stroke-width="1.3"/>
<path d="M425.1 397.4H471.2V459H425.1ZM425.1 440.7H471.2" fill="none" stroke="#000" stroke-width="1.5"/>
<ellipse cx="448.9" cy="476.5" rx="2.8" ry="3.15" fill="#ffffff" stroke="#000" stroke-width="1.45"/>
<ellipse cx="448.9" cy="472.3" rx="2.8" ry="3.15" fill="#ffffff" stroke="#000" stroke-width="1.45"/>
<ellipse cx="448.9" cy="352" rx="2.8" ry="3.15" fill="#ffffff" stroke="#000" stroke-width="1.45"/>
<ellipse cx="448.9" cy="316.5" rx="2.8" ry="3.15" fill="#ffffff" stroke="#000" stroke-width="1.45"/>
<ellipse cx="448.9" cy="304" rx="2.8" ry="3.15" fill="#ffffff" stroke="#000" stroke-width="1.45"/>
<text x="449.9" y="498.8" text-anchor="middle" font-size="12.9">T1</text>
<rect x="450.24" y="497.44" width="3.16" height="2.86" fill="#fff"/>
<rect x="454.74" y="497.44" width="2.96" height="2.86" fill="#fff"/>
<path d="M501 384V429.6M501 470.6V476.5M495.1 384H506.9M495.1 476.5H506.9" stroke="#000" stroke-width="1.45" fill="none"/>
<rect x="478.4" y="430.4" width="44" height="31.6" fill="#d9d9d9" stroke="#fbfbfb" stroke-width="1.3"/>
<rect x="478.4" y="463.6" width="44" height="6.2" fill="#d9d9d9" stroke="#fbfbfb" stroke-width="1.3"/>
<path d="M477.6 429.6H523.2V470.6H477.6ZM477.6 462.8H523.2" fill="none" stroke="#000" stroke-width="1.5"/>
<ellipse cx="501" cy="481.8" rx="2.8" ry="3.15" fill="#444" stroke="#000" stroke-width="1.45"/>
<ellipse cx="501" cy="477.4" rx="2.8" ry="3.15" fill="#f4f4f4" stroke="#000" stroke-width="1.45"/>
<ellipse cx="501" cy="379.8" rx="2.8" ry="3.15" fill="#f4f4f4" stroke="#000" stroke-width="1.45"/>
<ellipse cx="501" cy="357" rx="2.8" ry="3.15" fill="#f4f4f4" stroke="#000" stroke-width="1.45"/>
<ellipse cx="501" cy="349.2" rx="2.8" ry="3.15" fill="#f4f4f4" stroke="#000" stroke-width="1.45"/>
<ellipse cx="501" cy="340.8" rx="2.8" ry="3.15" fill="#f4f4f4" stroke="#000" stroke-width="1.45"/>
<ellipse cx="501" cy="328.2" rx="2.8" ry="3.15" fill="#f4f4f4" stroke="#000" stroke-width="1.45"/>
<ellipse cx="501" cy="325.8" rx="2.8" ry="3.15" fill="#f4f4f4" stroke="#000" stroke-width="1.45"/>
<ellipse cx="501" cy="323.2" rx="2.8" ry="3.15" fill="#f4f4f4" stroke="#000" stroke-width="1.45"/>
<text x="500.5" y="498.8" text-anchor="middle" font-size="12.9">T2</text>
<path d="M553.3 423.6V445.5M553.3 471.8V479.6M547.4 423.6H559.2M547.4 479.6H559.2" stroke="#000" stroke-width="1.45" fill="none"/>
<rect x="530.9" y="446.3" width="43.9" height="11.3" fill="#a6a6a6" stroke="#cccccc" stroke-width="1.3"/>
<rect x="530.9" y="459.2" width="43.9" height="11.8" fill="#a6a6a6" stroke="#cccccc" stroke-width="1.3"/>
<path d="M530.1 445.5H575.6V471.8H530.1ZM530.1 458.4H575.6" fill="none" stroke="#000" stroke-width="1.5"/>
<ellipse cx="553.3" cy="482" rx="2.8" ry="3.15" fill="#444" stroke="#000" stroke-width="1.45"/>
<ellipse cx="553.3" cy="479" rx="2.8" ry="3.15" fill="#bdbdbd" stroke="#000" stroke-width="1.45"/>
<ellipse cx="553.3" cy="420.2" rx="2.8" ry="3.15" fill="#bdbdbd" stroke="#000" stroke-width="1.45"/>
<ellipse cx="553.3" cy="416.6" rx="2.8" ry="3.15" fill="#bdbdbd" stroke="#000" stroke-width="1.45"/>
<ellipse cx="553.3" cy="401.5" rx="2.8" ry="3.15" fill="#bdbdbd" stroke="#000" stroke-width="1.45"/>
<ellipse cx="553.3" cy="395.8" rx="2.8" ry="3.15" fill="#bdbdbd" stroke="#000" stroke-width="1.45"/>
<ellipse cx="553.3" cy="392.5" rx="2.8" ry="3.15" fill="#bdbdbd" stroke="#000" stroke-width="1.45"/>
<ellipse cx="553.3" cy="388.7" rx="2.8" ry="3.15" fill="#bdbdbd" stroke="#000" stroke-width="1.45"/>
<ellipse cx="553.3" cy="365.8" rx="2.8" ry="3.15" fill="#bdbdbd" stroke="#000" stroke-width="1.45"/>
<ellipse cx="553.3" cy="340.4" rx="2.8" ry="3.15" fill="#bdbdbd" stroke="#000" stroke-width="1.45"/>
<text x="553.9" y="498.8" text-anchor="middle" font-size="12.9">T3</text>
<path d="M550.5 302.5L550.5 299.4M550.5 302.5L553.45 301.54M550.5 302.5L552.32 305.01M550.5 302.5L548.68 305.01M550.5 302.5L547.55 301.54" stroke="#000" stroke-width="1.75" fill="none"/>
<path d="M558.2 302.5L558.2 299.4M558.2 302.5L561.15 301.54M558.2 302.5L560.02 305.01M558.2 302.5L556.38 305.01M558.2 302.5L555.25 301.54" stroke="#000" stroke-width="1.75" fill="none"/>
<path d="M605.6 408V447.1M605.6 472.8V479.6M599.7 408H611.5M599.7 479.6H611.5" stroke="#000" stroke-width="1.45" fill="none"/>
<rect x="583.2" y="447.9" width="43.9" height="14.1" fill="#808080" stroke="#a3a3a3" stroke-width="1.3"/>
<rect x="583.2" y="463.6" width="43.9" height="8.4" fill="#808080" stroke="#a3a3a3" stroke-width="1.3"/>
<path d="M582.4 447.1H627.9V472.8H582.4ZM582.4 462.8H627.9" fill="none" stroke="#000" stroke-width="1.5"/>
<ellipse cx="605.6" cy="482.4" rx="2.8" ry="3.15" fill="#444" stroke="#000" stroke-width="1.45"/>
<ellipse cx="605.6" cy="478.8" rx="2.8" ry="3.15" fill="#a0a0a0" stroke="#000" stroke-width="1.45"/>
<ellipse cx="605.6" cy="406" rx="2.8" ry="3.15" fill="#a0a0a0" stroke="#000" stroke-width="1.45"/>
<ellipse cx="605.6" cy="403" rx="2.8" ry="3.15" fill="#a0a0a0" stroke="#000" stroke-width="1.45"/>
<ellipse cx="605.6" cy="400" rx="2.8" ry="3.15" fill="#a0a0a0" stroke="#000" stroke-width="1.45"/>
<ellipse cx="605.6" cy="393.5" rx="2.8" ry="3.15" fill="#a0a0a0" stroke="#000" stroke-width="1.45"/>
<ellipse cx="605.6" cy="390.5" rx="2.8" ry="3.15" fill="#a0a0a0" stroke="#000" stroke-width="1.45"/>
<ellipse cx="605.6" cy="382.5" rx="2.8" ry="3.15" fill="#a0a0a0" stroke="#000" stroke-width="1.45"/>
<ellipse cx="605.6" cy="379.5" rx="2.8" ry="3.15" fill="#a0a0a0" stroke="#000" stroke-width="1.45"/>
<ellipse cx="605.6" cy="376.5" rx="2.8" ry="3.15" fill="#a0a0a0" stroke="#000" stroke-width="1.45"/>
<text x="604.7" y="498.8" text-anchor="middle" font-size="12.9">T4</text>
<path d="M603.2 302.5L603.2 299.4M603.2 302.5L606.15 301.54M603.2 302.5L605.02 305.01M603.2 302.5L601.38 305.01M603.2 302.5L600.25 301.54" stroke="#000" stroke-width="1.75" fill="none"/>
<path d="M610.5 302.5L610.5 299.4M610.5 302.5L613.45 301.54M610.5 302.5L612.32 305.01M610.5 302.5L608.68 305.01M610.5 302.5L607.55 301.54" stroke="#000" stroke-width="1.75" fill="none"/>
<path d="M397.8 286.5V482M397 481.2H650" stroke="#000" stroke-width="1.6" fill="none"/>
</svg>
</body></html>
